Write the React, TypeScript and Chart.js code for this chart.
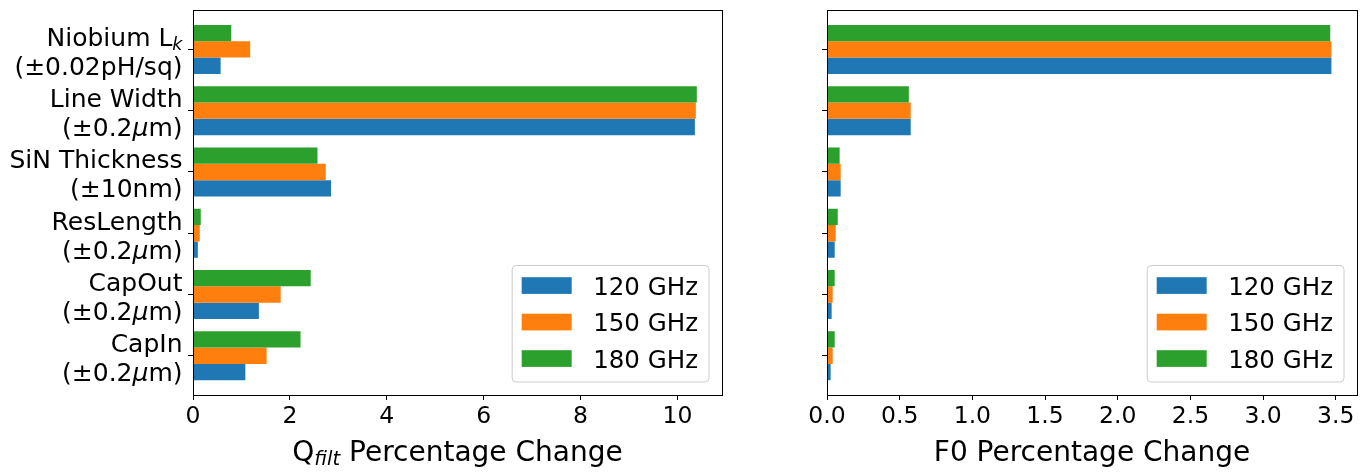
import { useEffect, useRef } from "react"
import { Chart, registerables } from "chart.js"

Chart.register(...registerables)

// parameter varied, with its tolerance; "_{..}" marks an italic subscript
const categories = [
  ["Niobium L_{k}", "(±0.02pH/sq)"],
  ["Line Width", "(±0.2μm)"],
  ["SiN Thickness", "(±10nm)"],
  ["ResLength", "(±0.2μm)"],
  ["CapOut", "(±0.2μm)"],
  ["CapIn", "(±0.2μm)"],
]

const seriesLabels = ["120 GHz", "150 GHz", "180 GHz"]
const seriesColors = ["#1f77b4", "#ff7f0e", "#2ca02c"]

// Q_filt percentage change
const qfilt120 = [0.57, 10.36, 2.85, 0.1, 1.36, 1.08]
const qfilt150 = [1.18, 10.38, 2.74, 0.14, 1.81, 1.52]
const qfilt180 = [0.79, 10.4, 2.57, 0.16, 2.43, 2.22]

// F0 percentage change
const f0_120 = [3.47, 0.576, 0.094, 0.053, 0.032, 0.025]
const f0_150 = [3.47, 0.576, 0.094, 0.06, 0.039, 0.039]
const f0_180 = [3.462, 0.563, 0.087, 0.074, 0.053, 0.053]

const qfiltTicks = [0, 2, 4, 6, 8, 10]
const f0Ticks = [0, 0.5, 1, 1.5, 2, 2.5, 3, 3.5]

const FONT = "'DejaVu Sans', sans-serif"

type Seg = { text: string; italic: boolean; sub: boolean }

function parseRich(s: string): Seg[] {
  const out: Seg[] = []
  const re = /_\{([^}]*)\}|μ/g
  let last = 0
  let m: RegExpExecArray | null
  while ((m = re.exec(s))) {
    if (m.index > last) out.push({ text: s.slice(last, m.index), italic: false, sub: false })
    if (m[1] !== undefined) out.push({ text: m[1], italic: true, sub: true })
    else out.push({ text: "μ", italic: true, sub: false })
    last = re.lastIndex
  }
  if (last < s.length) out.push({ text: s.slice(last), italic: false, sub: false })
  return out
}

function drawRich(ctx: CanvasRenderingContext2D, s: string, x: number, y: number, size: number, align: "right" | "center") {
  const segs = parseRich(s)
  const fontOf = (g: Seg) => `${g.italic ? "italic " : ""}${g.sub ? size * 0.7 : size}px ${FONT}`
  const widths = segs.map((g) => {
    ctx.font = fontOf(g)
    return ctx.measureText(g.text).width
  })
  const total = widths.reduce((a, b) => a + b, 0)
  let cx = align === "right" ? x - total : x - total / 2
  ctx.textAlign = "left"
  ctx.textBaseline = "alphabetic"
  ctx.fillStyle = "#000"
  segs.forEach((g, i) => {
    ctx.font = fontOf(g)
    ctx.fillText(g.text, cx, y + (g.sub ? size * 0.15 : 0))
    cx += widths[i]
  })
}

function decorPlugin(title: string, showLabels: boolean) {
  return {
    id: "decor",
    afterDraw(chart: Chart) {
      const ctx = chart.ctx
      const ca = chart.chartArea
      const yScale = chart.scales.y
      ctx.save()

      // frame (matplotlib spines)
      ctx.strokeStyle = "#000"
      ctx.lineWidth = 1
      ctx.strokeRect(Math.round(ca.left) + 0.5, Math.round(ca.top) + 0.5, Math.round(ca.right - ca.left), Math.round(ca.bottom - ca.top))

      // category labels
      if (showLabels) {
        categories.forEach((lines, i) => {
          const py = yScale.getPixelForValue(i)
          drawRich(ctx, lines[0], ca.left - 10.5, py - 3.5, 25, "right")
          drawRich(ctx, lines[1], ca.left - 10.5, py + 25.5, 25, "right")
        })
      }

      // axis title
      drawRich(ctx, title, (ca.left + ca.right) / 2, 460.5, 28, "center")

      // legend, lower right inside the axes
      ctx.font = `24.5px ${FONT}`
      const textW = Math.max(...seriesLabels.map((l) => ctx.measureText(l).width))
      const boxW = 9.5 + 50 + 21.5 + textW + 11
      const boxH = 116.5
      const bx = ca.right - 13 - boxW
      const by = ca.bottom - 13 - boxH
      ctx.beginPath()
      ctx.roundRect(bx, by, boxW, boxH, 4)
      ctx.fillStyle = "rgba(255,255,255,0.8)"
      ctx.fill()
      ctx.strokeStyle = "#cccccc"
      ctx.stroke()
      seriesLabels.forEach((label, i) => {
        const rowY = by + 20 + i * 36.5
        ctx.fillStyle = seriesColors[i]
        ctx.fillRect(bx + 9.5, rowY - 8.3, 50, 16.7)
        ctx.fillStyle = "#000"
        ctx.textAlign = "left"
        ctx.textBaseline = "alphabetic"
        ctx.fillText(label, bx + 81, rowY + 9.3)
      })
      ctx.restore()
    },
  }
}

interface BarPanelProps {
  series: number[][]
  ticks: number[]
  decimals: number
  max: number
  title: string
  showLabels: boolean
  left: number
  width: number
  yWidth: number
  padRight: number
}

function BarPanel({ series, ticks, decimals, max, title, showLabels, left, width, yWidth, padRight }: BarPanelProps) {
  const chartRef = useRef<HTMLCanvasElement>(null)
  const chartInstance = useRef<Chart | null>(null)

  useEffect(() => {
    if (!chartRef.current) return
    if (chartInstance.current) chartInstance.current.destroy()
    const ctx = chartRef.current.getContext("2d")
    if (!ctx) return

    // drawn top-to-bottom inside each group: 180, 150, 120
    const order = [2, 1, 0]
    chartInstance.current = new Chart(ctx, {
      type: "bar",
      data: {
        datasets: order.map((k) => ({
          label: seriesLabels[k],
          data: series[k].map((v, i) => ({ x: v, y: i })),
          backgroundColor: seriesColors[k],
          borderWidth: 0,
          categoryPercentage: 0.8,
          barPercentage: 1,
        })),
      },
      options: {
        indexAxis: "y",
        animation: false,
        responsive: true,
        maintainAspectRatio: false,
        layout: { padding: { left: 0, right: padRight, top: 10, bottom: 0 } },
        plugins: {
          legend: { display: false },
          tooltip: { enabled: false },
        },
        scales: {
          x: {
            type: "linear",
            min: 0,
            max: max,
            afterBuildTicks: (s: any) => {
              s.ticks = ticks.map((v) => ({ value: v }))
            },
            afterFit: (s: any) => {
              s.height = 81
            },
            ticks: {
              color: "#000",
              font: { family: FONT, size: 23.5 },
              padding: 3,
              callback: (v: any) => Number(v).toFixed(decimals),
            },
            grid: { drawOnChartArea: false, drawTicks: true, tickLength: 5, color: "#000", lineWidth: 1 },
            border: { display: true, color: "#000", width: 1 },
          },
          y: {
            type: "linear",
            reverse: true,
            offset: false,
            min: -0.64,
            max: 5.64,
            afterBuildTicks: (s: any) => {
              s.ticks = categories.map((_, i) => ({ value: i }))
            },
            afterFit: (s: any) => {
              s.width = yWidth
            },
            ticks: { autoSkip: false, callback: () => "" },
            grid: { offset: false, drawOnChartArea: false, drawTicks: true, tickLength: 5, color: "#000", lineWidth: 1 },
            border: { display: true, color: "#000", width: 1 },
          },
        },
      },
      plugins: [decorPlugin(title, showLabels)],
    })

    return () => {
      if (chartInstance.current) {
        chartInstance.current.destroy()
        chartInstance.current = null
      }
    }
  }, [series, ticks, decimals, max, title, showLabels, yWidth, padRight])

  return (
    <div style={{ position: "absolute", left, top: 0, width, height: 476 }}>
      <canvas ref={chartRef}></canvas>
    </div>
  )
}

const qfiltSeries = [qfilt120, qfilt150, qfilt180]
const f0Series = [f0_120, f0_150, f0_180]

export default function App() {
  return (
    <div style={{ position: "fixed", left: 0, top: 0, width: 1365, height: 476, background: "#fff" }}>
      <BarPanel
        series={qfiltSeries}
        ticks={qfiltTicks}
        decimals={0}
        max={10.92}
        title="Q_{filt} Percentage Change"
        showLabels={true}
        left={0}
        width={760}
        yWidth={193}
        padRight={38}
      />
      <BarPanel
        series={f0Series}
        ticks={f0Ticks}
        decimals={1}
        max={3.646}
        title="F0 Percentage Change"
        showLabels={false}
        left={760}
        width={605}
        yWidth={67}
        padRight={8}
      />
    </div>
  )
}
